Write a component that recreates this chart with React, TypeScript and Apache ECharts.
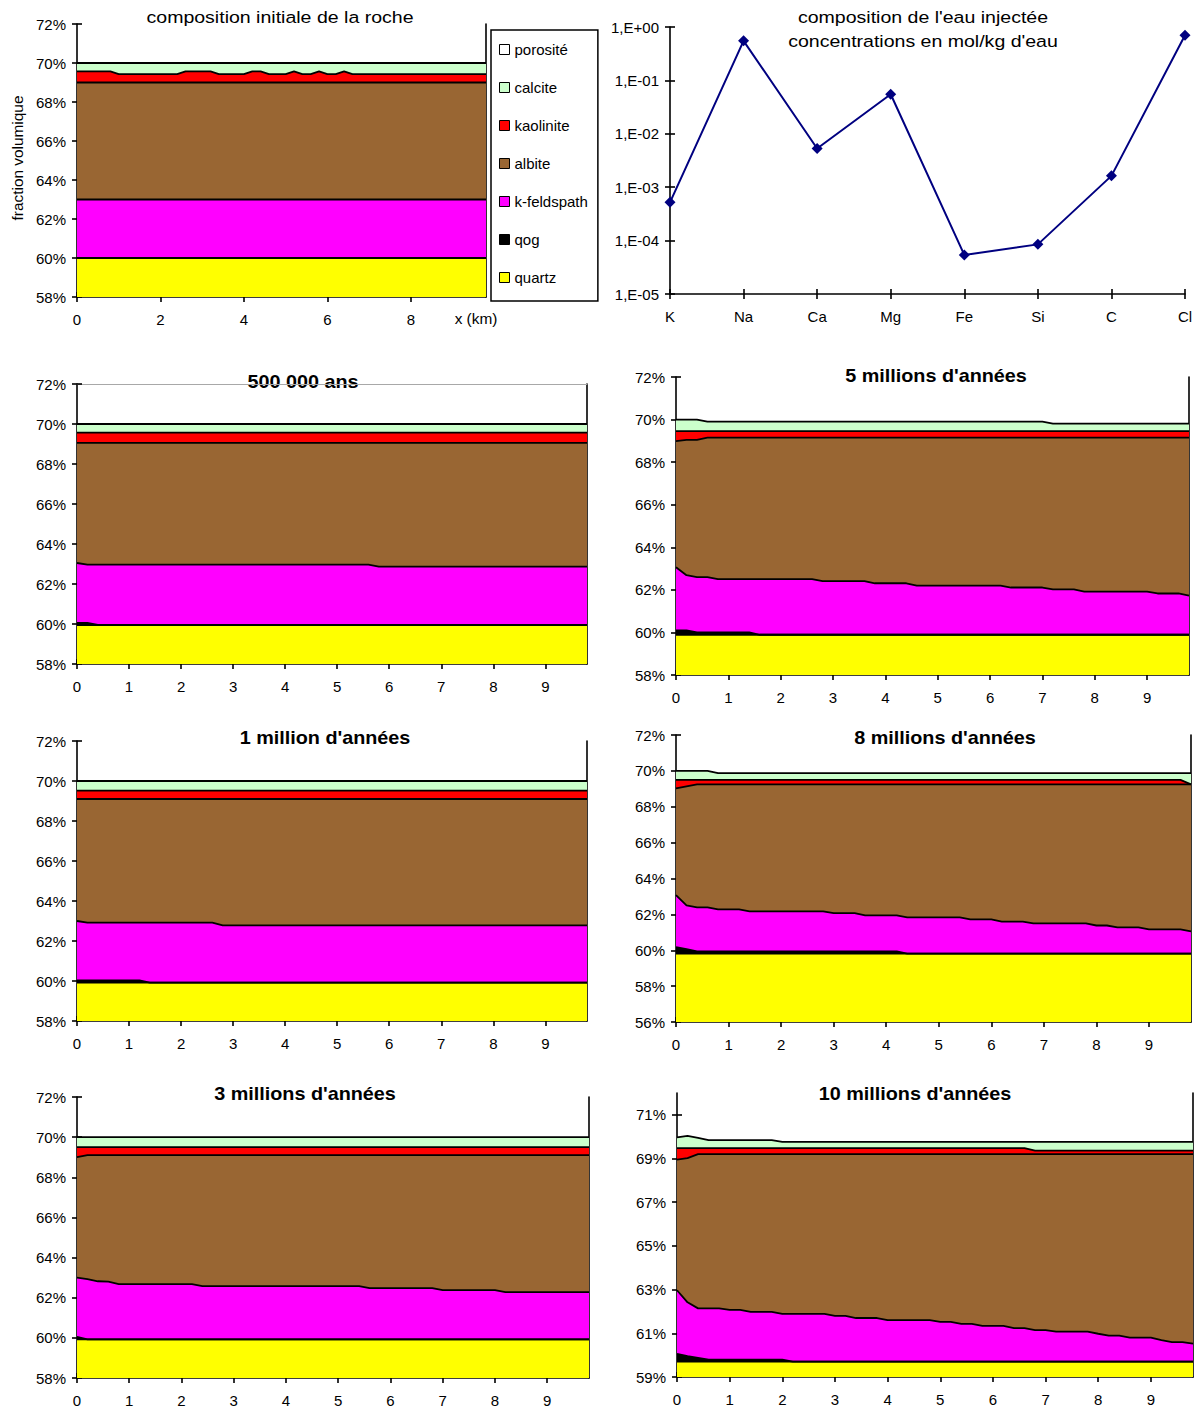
import React, { useEffect, useRef } from 'react';
import * as echarts from 'echarts';

const FONT = '"Liberation Sans", Arial, sans-serif';

// ---------- Injected water composition (mol/kg) ----------
const waterElements = ['K', 'Na', 'Ca', 'Mg', 'Fe', 'Si', 'C', 'Cl'];
const waterConc = [5.2e-4, 0.55, 5.3e-3, 0.055, 5.4e-5, 8.5e-5, 1.63e-3, 0.7];

// ---------- Minerals ----------
const minerals = ['porosité', 'calcite', 'kaolinite', 'albite', 'k-feldspath', 'qog', 'quartz'];
const mineralColors = ['#FFFFFF', '#CCFFCC', '#FF0000', '#996633', '#FF00FF', '#000000', '#FFFF00'];

// ---------- Tick labels ----------
const yTicks58 = [58, 60, 62, 64, 66, 68, 70, 72];
const yTicks56 = [56, 58, 60, 62, 64, 66, 68, 70, 72];
const yTicks59 = [59, 61, 63, 65, 67, 69, 71];
const xTicksInit = [0, 2, 4, 6, 8];
const xTicksKm = [0, 1, 2, 3, 4, 5, 6, 7, 8, 9];

// ---------- Cumulative volume fraction (%) at top of each mineral layer, [x km, %] ----------
// initial rock
const init_quartz = [[0, 60], [9.8, 60]];
const init_qog = [[0, 60], [9.8, 60]];
const init_kfeldspath = [[0, 63], [9.8, 63]];
const init_albite = [[0, 69], [9.8, 69]];
const init_kaolinite = [[0, 69.57], [0.8, 69.57], [1.0, 69.43], [2.4, 69.43], [2.6, 69.57], [3.2, 69.57], [3.4, 69.43], [4.0, 69.43], [4.2, 69.57], [4.4, 69.57], [4.6, 69.43], [5.0, 69.43], [5.2, 69.57], [5.4, 69.43], [5.6, 69.43], [5.8, 69.57], [6.0, 69.43], [6.2, 69.43], [6.4, 69.57], [6.6, 69.43], [9.8, 69.43]];
const init_calcite = [[0, 70], [9.8, 70]];

// 500 000 ans
const y500k_quartz = [[0, 59.95], [9.8, 59.95]];
const y500k_qog = [[0, 60.05], [0.2, 60.05], [0.4, 59.95], [9.8, 59.95]];
const y500k_kfeldspath = [[0, 63.05], [0.2, 62.97], [5.6, 62.97], [5.8, 62.87], [9.8, 62.87]];
const y500k_albite = [[0, 69.06], [9.8, 69.06]];
const y500k_kaolinite = [[0, 69.57], [9.8, 69.57]];
const y500k_calcite = [[0, 70], [9.8, 70]];

// 1 million d'années
const y1m_quartz = [[0, 59.92], [9.8, 59.92]];
const y1m_qog = [[0, 60.03], [1.2, 60.03], [1.4, 59.92], [9.8, 59.92]];
const y1m_kfeldspath = [[0, 63.0], [0.2, 62.92], [2.6, 62.92], [2.8, 62.78], [9.8, 62.78]];
const y1m_albite = [[0, 69.1], [9.8, 69.1]];
const y1m_kaolinite = [[0, 69.52], [9.8, 69.52]];
const y1m_calcite = [[0, 70], [9.8, 70]];

// 3 millions d'années
const y3m_quartz = [[0, 59.92], [9.8, 59.92]];
const y3m_qog = [[0, 60.05], [0.2, 59.92], [9.8, 59.92]];
const y3m_kfeldspath = [[0, 63.0], [0.2, 62.93], [0.4, 62.82], [0.6, 62.8], [0.8, 62.68], [2.2, 62.68], [2.4, 62.58], [5.4, 62.58], [5.6, 62.48], [6.8, 62.48], [7.0, 62.38], [8.0, 62.38], [8.2, 62.28], [9.8, 62.28]];
const y3m_albite = [[0, 69.0], [0.2, 69.1], [9.8, 69.1]];
const y3m_kaolinite = [[0, 69.5], [9.8, 69.5]];
const y3m_calcite = [[0, 70], [9.8, 70]];

// 5 millions d'années
const y5m_quartz = [[0, 59.89], [9.8, 59.89]];
const y5m_qog = [[0, 60.1], [0.2, 60.1], [0.4, 60.0], [1.4, 60.0], [1.6, 59.89], [9.8, 59.89]];
const y5m_kfeldspath = [[0, 63.06], [0.2, 62.69], [0.4, 62.6], [0.6, 62.6], [0.8, 62.5], [2.6, 62.5], [2.8, 62.41], [3.6, 62.41], [3.8, 62.31], [4.4, 62.31], [4.6, 62.2], [6.2, 62.2], [6.4, 62.11], [7.0, 62.11], [7.2, 62.02], [7.6, 62.02], [7.8, 61.92], [9.0, 61.92], [9.2, 61.83], [9.6, 61.83], [9.8, 61.73]];
const y5m_albite = [[0, 68.99], [0.2, 69.05], [0.4, 69.05], [0.6, 69.15], [9.8, 69.15]];
const y5m_kaolinite = [[0, 69.46], [9.8, 69.46]];
const y5m_calcite = [[0, 70], [0.4, 70], [0.6, 69.9], [7.0, 69.9], [7.2, 69.81], [9.8, 69.81]];

// 8 millions d'années
const y8m_quartz = [[0, 59.81], [9.8, 59.81]];
const y8m_qog = [[0, 60.17], [0.2, 60.06], [0.4, 59.94], [4.2, 59.94], [4.4, 59.81], [9.8, 59.81]];
const y8m_kfeldspath = [[0, 63.07], [0.2, 62.5], [0.4, 62.39], [0.6, 62.39], [0.8, 62.28], [1.2, 62.28], [1.4, 62.17], [2.8, 62.17], [3.0, 62.07], [3.4, 62.07], [3.6, 61.94], [4.2, 61.94], [4.4, 61.83], [5.4, 61.83], [5.6, 61.72], [6.0, 61.72], [6.2, 61.6], [6.6, 61.6], [6.8, 61.5], [7.8, 61.5], [8.0, 61.38], [8.2, 61.38], [8.4, 61.27], [8.8, 61.27], [9.0, 61.16], [9.6, 61.16], [9.8, 61.05]];
const y8m_albite = [[0, 69.03], [0.2, 69.14], [0.4, 69.25], [9.8, 69.25]];
const y8m_kaolinite = [[0, 69.5], [9.6, 69.5], [9.8, 69.25]];
const y8m_calcite = [[0, 70], [0.6, 70], [0.8, 69.87], [9.8, 69.87]];

// 10 millions d'années
const y10m_quartz = [[0, 59.7], [9.8, 59.7]];
const y10m_qog = [[0, 60.06], [0.2, 59.95], [0.4, 59.87], [0.6, 59.79], [2.0, 59.79], [2.2, 59.7], [9.8, 59.7]];
const y10m_kfeldspath = [[0, 62.97], [0.2, 62.42], [0.4, 62.14], [0.8, 62.14], [1.0, 62.07], [1.2, 62.07], [1.4, 61.98], [1.8, 61.98], [2.0, 61.89], [2.8, 61.89], [3.0, 61.8], [3.2, 61.8], [3.4, 61.7], [3.8, 61.7], [4.0, 61.6], [4.8, 61.6], [5.0, 61.52], [5.2, 61.52], [5.4, 61.43], [5.6, 61.43], [5.8, 61.34], [6.2, 61.34], [6.4, 61.24], [6.6, 61.24], [6.8, 61.15], [7.0, 61.15], [7.2, 61.08], [7.8, 61.08], [8.0, 60.98], [8.2, 60.89], [8.4, 60.89], [8.6, 60.8], [9.0, 60.8], [9.2, 60.69], [9.4, 60.6], [9.6, 60.6], [9.8, 60.53]];
const y10m_albite = [[0, 68.95], [0.2, 69.02], [0.4, 69.2], [9.8, 69.2]];
const y10m_kaolinite = [[0, 69.48], [6.6, 69.48], [6.8, 69.36], [9.8, 69.36]];
const y10m_calcite = [[0, 69.97], [0.2, 70.04], [0.4, 69.95], [0.6, 69.84], [1.8, 69.84], [2.0, 69.76], [9.8, 69.76]];

// ---------- Layout of stacked panels ----------
const panels = [
  { title: 'composition initiale de la roche', bold: false, tx: 280, ty: 17, left: 77, top: 24, width: 409, height: 273, yMin: 58, yMax: 72, yTicks: yTicks58, xTicks: xTicksInit, topLine: false,
    tops: [init_calcite, init_kaolinite, init_albite, init_kfeldspath, init_qog, init_quartz] },
  { title: '500 000 ans', bold: true, tx: 303, ty: 382, left: 77, top: 384, width: 510, height: 280, yMin: 58, yMax: 72, yTicks: yTicks58, xTicks: xTicksKm, topLine: true,
    tops: [y500k_calcite, y500k_kaolinite, y500k_albite, y500k_kfeldspath, y500k_qog, y500k_quartz] },
  { title: "5 millions d'années", bold: true, tx: 936, ty: 376, left: 676, top: 377, width: 513, height: 298, yMin: 58, yMax: 72, yTicks: yTicks58, xTicks: xTicksKm, topLine: false,
    tops: [y5m_calcite, y5m_kaolinite, y5m_albite, y5m_kfeldspath, y5m_qog, y5m_quartz] },
  { title: "1 million d'années", bold: true, tx: 325, ty: 738, left: 77, top: 741, width: 510, height: 280, yMin: 58, yMax: 72, yTicks: yTicks58, xTicks: xTicksKm, topLine: false,
    tops: [y1m_calcite, y1m_kaolinite, y1m_albite, y1m_kfeldspath, y1m_qog, y1m_quartz] },
  { title: "8 millions d'années", bold: true, tx: 945, ty: 738, left: 676, top: 735, width: 515, height: 287, yMin: 56, yMax: 72, yTicks: yTicks56, xTicks: xTicksKm, topLine: false,
    tops: [y8m_calcite, y8m_kaolinite, y8m_albite, y8m_kfeldspath, y8m_qog, y8m_quartz] },
  { title: "3 millions d'années", bold: true, tx: 305, ty: 1094, left: 77, top: 1097, width: 512, height: 281, yMin: 58, yMax: 72, yTicks: yTicks58, xTicks: xTicksKm, topLine: false,
    tops: [y3m_calcite, y3m_kaolinite, y3m_albite, y3m_kfeldspath, y3m_qog, y3m_quartz] },
  { title: "10 millions d'années", bold: true, tx: 915, ty: 1094, left: 677, top: 1093, width: 516, height: 284, yMin: 59, yMax: 72, yTicks: yTicks59, xTicks: xTicksKm, topLine: false,
    tops: [y10m_calcite, y10m_kaolinite, y10m_albite, y10m_kfeldspath, y10m_qog, y10m_quartz] },
];

const AXIS_LINE = { color: '#000', width: 1.6 };
const LABEL = { color: '#000', fontSize: 15, fontFamily: FONT };

function buildOption() {
  const grid: any[] = [];
  const xAxis: any[] = [];
  const yAxis: any[] = [];
  const series: any[] = [];
  const graphic: any[] = [];

  const layerNames = minerals.slice(1);
  const layerColors = mineralColors.slice(1);

  panels.forEach((p) => {
    const gi = grid.length;
    grid.push({ left: p.left, top: p.top, width: p.width, height: p.height, containLabel: false, outerBoundsMode: 'none' });
    const xi = xAxis.length;
    xAxis.push({
      type: 'value', gridIndex: gi, min: 0, max: 9.8, position: 'bottom',
      axisLine: { show: true, onZero: false, lineStyle: AXIS_LINE },
      axisTick: { show: true, inside: false, length: 5, lineStyle: AXIS_LINE, customValues: p.xTicks },
      axisLabel: { ...LABEL, margin: 15, customValues: p.xTicks, formatter: (v: number) => String(v) },
      splitLine: { show: false },
    });
    xAxis.push({
      type: 'value', gridIndex: gi, min: 0, max: 9.8, position: 'bottom',
      axisLine: { show: false, onZero: false },
      axisTick: { show: true, inside: true, length: 5, lineStyle: AXIS_LINE, customValues: p.xTicks },
      axisLabel: { show: false }, splitLine: { show: false },
    });
    if (p.topLine) {
      xAxis.push({
        type: 'value', gridIndex: gi, min: 0, max: 9.8, position: 'top',
        axisLine: { show: true, onZero: false, lineStyle: { color: '#a8a8a8', width: 1 } },
        axisTick: { show: false }, axisLabel: { show: false }, splitLine: { show: false },
      });
    }
    const yi = yAxis.length;
    yAxis.push({
      type: 'value', gridIndex: gi, min: p.yMin, max: p.yMax, position: 'left',
      axisLine: { show: true, onZero: false, lineStyle: AXIS_LINE },
      axisTick: { show: true, inside: false, length: 5, lineStyle: AXIS_LINE, customValues: p.yTicks },
      axisLabel: { ...LABEL, margin: 11, customValues: p.yTicks, formatter: (v: number) => v + '%' },
      splitLine: { show: false },
    });
    yAxis.push({
      type: 'value', gridIndex: gi, min: p.yMin, max: p.yMax, position: 'left',
      axisLine: { show: false, onZero: false },
      axisTick: { show: true, inside: true, length: 5, lineStyle: AXIS_LINE, customValues: p.yTicks },
      axisLabel: { show: false }, splitLine: { show: false },
    });
    yAxis.push({
      type: 'value', gridIndex: gi, min: p.yMin, max: p.yMax, position: 'right',
      axisLine: { show: true, onZero: false, lineStyle: AXIS_LINE },
      axisTick: { show: false }, axisLabel: { show: false }, splitLine: { show: false },
    });
    p.tops.forEach((data, k) => {
      series.push({
        type: 'line', name: layerNames[k], xAxisIndex: xi, yAxisIndex: yi,
        data, symbol: 'none', showSymbol: false, silent: true, clip: true,
        lineStyle: { color: '#000', width: 1.8 },
        itemStyle: { color: layerColors[k] },
        areaStyle: { color: layerColors[k], opacity: 1, origin: 'start' },
        emphasis: { disabled: true },
      });
    });
    graphic.push({
      type: 'text', x: p.tx, y: p.ty, scaleX: p.bold ? 1.1 : 1.15,
      style: { text: p.title, fill: '#000', font: (p.bold ? 'bold 18px ' : '17px ') + FONT, textAlign: 'center', textVerticalAlign: 'middle' },
    });
  });

  // dummy series so the legend shows "porosité"
  series.push({ type: 'line', name: 'porosité', data: [], xAxisIndex: 0, yAxisIndex: 0, symbol: 'none', itemStyle: { color: '#fff' } });

  // ---- Water composition line chart ----
  const gi = grid.length;
  grid.push({ left: 670, top: 27, width: 515, height: 267, containLabel: false, outerBoundsMode: 'none' });
  const wx = xAxis.length;
  xAxis.push({
    type: 'category', gridIndex: gi, data: waterElements, boundaryGap: false, position: 'bottom',
    axisLine: { show: true, onZero: false, lineStyle: AXIS_LINE },
    axisTick: { show: true, inside: false, length: 5, lineStyle: AXIS_LINE },
    axisLabel: { ...LABEL, margin: 15, interval: 0 },
    splitLine: { show: false },
  });
  xAxis.push({
    type: 'category', gridIndex: gi, data: waterElements, boundaryGap: false, position: 'bottom',
    axisLine: { show: false, onZero: false },
    axisTick: { show: true, inside: true, length: 5, lineStyle: AXIS_LINE },
    axisLabel: { show: false }, splitLine: { show: false },
  });
  const wy = yAxis.length;
  const logFmt = (v: number) => {
    const e = Math.round(Math.log10(v));
    return '1,E' + (e < 0 ? '-' : '+') + String(Math.abs(e)).padStart(2, '0');
  };
  yAxis.push({
    type: 'log', logBase: 10, gridIndex: gi, min: 1e-5, max: 1, position: 'left',
    axisLine: { show: true, onZero: false, lineStyle: AXIS_LINE },
    axisTick: { show: true, inside: false, length: 5, lineStyle: AXIS_LINE },
    axisLabel: { ...LABEL, margin: 11, formatter: logFmt },
    splitLine: { show: false }, minorTick: { show: false },
  });
  yAxis.push({
    type: 'log', logBase: 10, gridIndex: gi, min: 1e-5, max: 1, position: 'left',
    axisLine: { show: false, onZero: false },
    axisTick: { show: true, inside: true, length: 5, lineStyle: AXIS_LINE },
    axisLabel: { show: false }, splitLine: { show: false },
  });
  series.push({
    type: 'line', name: 'eau injectée', xAxisIndex: wx, yAxisIndex: wy, data: waterConc,
    symbol: 'diamond', symbolSize: 11, showSymbol: true, silent: true,
    lineStyle: { color: '#000080', width: 2 }, itemStyle: { color: '#000080' },
  });

  graphic.push({
    type: 'text', x: 923, y: 29, scaleX: 1.15,
    style: { text: "composition de l'eau injectée\nconcentrations en mol/kg d'eau", fill: '#000', font: '17px ' + FONT, lineHeight: 24, textAlign: 'center', textVerticalAlign: 'middle' },
  });
  graphic.push({
    type: 'text', x: 476, y: 319, scaleX: 1.1,
    style: { text: 'x (km)', fill: '#000', font: '14px ' + FONT, textAlign: 'center', textVerticalAlign: 'middle' },
  });
  graphic.push({
    type: 'text', x: 18, y: 158, rotation: Math.PI / 2, scaleX: 1.1,
    style: { text: 'fraction volumique', fill: '#000', font: '14px ' + FONT, textAlign: 'center', textVerticalAlign: 'middle' },
  });

  return {
    animation: false,
    backgroundColor: '#fff',
    textStyle: { fontFamily: FONT },
    tooltip: { show: false },
    legend: {
      show: true, orient: 'vertical', left: 491, top: 30,
      padding: [12, 10, 16, 8], itemGap: 23, itemWidth: 10, itemHeight: 10,
      borderColor: '#000', borderWidth: 1.5, backgroundColor: '#fff', selectedMode: false,
      textStyle: { fontSize: 15, fontFamily: FONT, color: '#000', lineHeight: 15 },
      data: minerals.map((m, i) => ({ name: m, icon: 'rect', itemStyle: { color: mineralColors[i], borderColor: '#000', borderWidth: 1 } })),
    },
    grid, xAxis, yAxis, series, graphic,
  };
}

export default function App() {
  const ref = useRef<HTMLDivElement>(null);
  useEffect(() => {
    const chart = echarts.init(ref.current as HTMLDivElement, null, { renderer: 'svg' });
    chart.setOption(buildOption() as any);
    return () => chart.dispose();
  }, []);
  return <div ref={ref} style={{ position: 'absolute', left: 0, top: 0, width: 1196, height: 1409, background: '#fff' }} />;
}
